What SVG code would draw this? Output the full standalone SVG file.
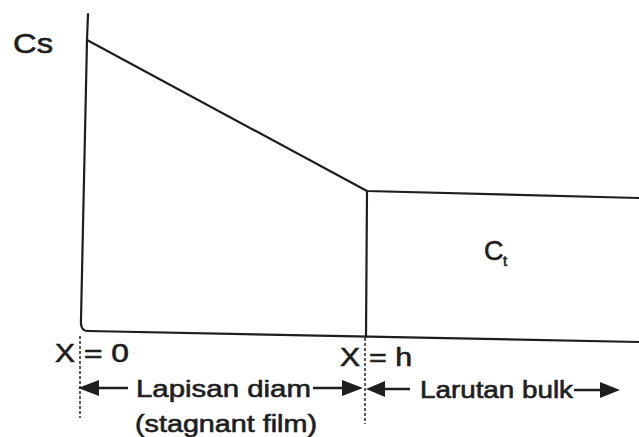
<svg xmlns="http://www.w3.org/2000/svg" width="639" height="437" viewBox="0 0 639 437">
<defs>
<style>
.ln{stroke:#1e1e1e;stroke-width:2.2;fill:none;stroke-linecap:round;stroke-linejoin:round}
.ar{stroke:#1e1e1e;stroke-width:2.5;fill:none}
.hd{fill:#1e1e1e}
.ds{stroke:#333;stroke-width:1.6;stroke-dasharray:3 2;fill:none}
.tx{font-family:"Liberation Sans",Arial,sans-serif;fill:#1e1e1e;stroke:#1e1e1e;stroke-width:0.6}
</style>
</defs>
<rect width="639" height="437" fill="#ffffff"/>
<g id="profile">
<path class="ln" d="M88,14 L87,40 L81,320 Q80,331 88,331 L639,342"/>
<path class="ln" d="M87,40 L367,191 L639,198"/>
<path class="ln" d="M367,191 L366,337"/>
</g>
<g id="connectors">
<line class="ds" x1="80" y1="336" x2="80" y2="418"/>
<line class="ds" x1="365" y1="338" x2="365" y2="424"/>
<line class="ar" x1="128" y1="388" x2="90" y2="388"/>
<path class="hd" d="M78,388 L99,380 L99,396 z"/>
<line class="ar" x1="313" y1="388" x2="350" y2="388"/>
<path class="hd" d="M363,388 L342,380 L342,396 z"/>
<line class="ar" x1="410" y1="389" x2="378" y2="389"/>
<path class="hd" d="M366,389 L385,381 L385,397 z"/>
<line class="ar" x1="574" y1="390" x2="608" y2="390"/>
<path class="hd" d="M620,390 L600,382 L600,398 z"/>
</g>
<g id="labels">
<text class="tx" x="13" y="53" font-size="27" textLength="40" lengthAdjust="spacingAndGlyphs">Cs</text>
<text class="tx" x="484" y="260" font-size="27">C</text>
<text class="tx" x="503" y="266" font-size="15">t</text>
<text class="tx" x="55" y="362" font-size="25" textLength="20" lengthAdjust="spacingAndGlyphs">X</text>
<text class="tx" x="84" y="362" font-size="25" textLength="45" lengthAdjust="spacingAndGlyphs">= 0</text>
<text class="tx" x="340" y="366" font-size="25" textLength="20" lengthAdjust="spacingAndGlyphs">X</text>
<text class="tx" x="369" y="366" font-size="25" textLength="43" lengthAdjust="spacingAndGlyphs">= h</text>
<text class="tx" x="136" y="397" font-size="24" textLength="175" lengthAdjust="spacingAndGlyphs">Lapisan diam</text>
<text class="tx" x="135" y="432" font-size="23" textLength="182" lengthAdjust="spacingAndGlyphs">(stagnant film)</text>
<text class="tx" x="420" y="398" font-size="23" textLength="153" lengthAdjust="spacingAndGlyphs">Larutan bulk</text>
</g>
</svg>
